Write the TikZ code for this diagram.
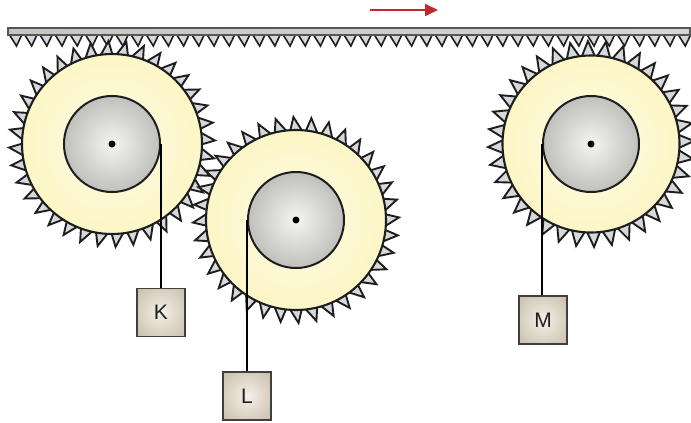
\documentclass[tikz,border=0pt]{standalone}
\usepackage{fontspec}
\setmainfont{Liberation Sans}
\usetikzlibrary{arrows.meta}
\definecolor{diskin}{HTML}{FFFDE4}
\definecolor{diskout}{HTML}{FAEEA8}
\definecolor{hubin}{HTML}{F4F4F3}
\definecolor{hubout}{HTML}{8C8B85}
\definecolor{boxin}{HTML}{F4F0E8}
\definecolor{boxout}{HTML}{B0A287}
\definecolor{toothfill}{HTML}{D6D9DC}
\definecolor{inkdark}{HTML}{1E1E1E}
\definecolor{rackfill}{HTML}{C6C6BF}
\definecolor{arrowred}{HTML}{C1272D}
\pgfdeclareradialshading{diskshade}{\pgfpoint{0bp}{0bp}}{color(0bp)=(diskin); color(50bp)=(diskout)}
\pgfdeclareradialshading{hubshade}{\pgfpoint{0bp}{0bp}}{color(0bp)=(hubin); color(50bp)=(hubout)}
\pgfdeclareradialshading{boxshade}{\pgfpoint{0bp}{0bp}}{color(0bp)=(boxin); color(55bp)=(boxout); color(75bp)=(boxout)}
\tikzset{
  tooth/.style={fill=toothfill, draw=inkdark, line width=1.9pt, line join=miter},
  racktooth/.style={fill=toothfill, draw=inkdark, line width=1.6pt, line join=miter},
  disk/.style={circle, draw=inkdark, line width=2.1pt, shading=diskshade, minimum size=180pt, inner sep=0pt},
  hub/.style={circle, draw=inkdark, line width=2pt, shading=hubshade, minimum size=96pt, inner sep=0pt},
  weight/.style={rectangle, draw=inkdark!85, line width=1.4pt, shading=boxshade, minimum size=48pt, inner sep=0pt, font=\fontsize{21}{21}\selectfont, text=inkdark},
  rackbar/.style={rectangle, draw=inkdark!75, line width=1.4pt, left color=rackfill, right color=rackfill!70!white, minimum width=682pt, minimum height=7pt, inner sep=0pt},
  rope/.style={draw=black, line width=1.3pt},
  push/.style={draw=arrowred, line width=1.8pt, -{Triangle[length=13pt,width=12pt]}},
}
\newcommand{\gearteeth}[4]{%
  \begin{scope}[shift={(#1)}]
  \foreach \i in {1,...,#2}{
    \pgfmathsetmacro{\ga}{#4+\i*360/#2}
    \pgfmathsetmacro{\gb}{\ga+0.86*360/#2}
    \pgfmathsetmacro{\gt}{\ga+#3*0.86*360/#2}
    \draw[tooth] (\ga:88) -- (\gt:103) -- (\gb:88) -- cycle;
  }
  \end{scope}}
\begin{document}
\begin{tikzpicture}[x=1pt,y=-1pt]
\useasboundingbox (0,0) rectangle (691,423);
% rack
\foreach \k in {0,...,44}{
  \pgfmathsetmacro{\rx}{9+15.2*\k}
  \draw[racktooth] (\rx,34) -- (\rx+7.5,46) -- (\rx+13.2,34) -- cycle;
}
\node[rackbar] (rack) at (349,31.5) {};
% arrow
\coordinate (aS) at (370,10);
\coordinate (aE) at (438,10);
\draw[push] (aS) -- (aE);
% gear centres
\coordinate (gK) at (112,144);
\coordinate (gL) at (296,220);
\coordinate (gM) at (591,144);
% gear K
\gearteeth{gK}{36}{0.7}{2}
\node[disk] (diskK) at (gK) {};
\node[hub] (hubK) at (gK) {};
\fill (gK) circle (3.5);
% gear L
\gearteeth{gL}{36}{0.3}{6}
\node[disk] (diskL) at (gL) {};
\node[hub] (hubL) at (gL) {};
\fill (gL) circle (3.5);
% gear M
\gearteeth{gM}{36}{0.5}{4}
\node[disk, minimum size=177pt] (diskM) at (gM) {};
\node[hub] (hubM) at (gM) {};
\fill (gM) circle (3.5);
% weights
\node[weight] (K) at (161,312.5) {K};
\node[weight] (L) at (247,396) {L};
\node[weight] (M) at (543,320) {M};
% ropes
\draw[rope] (hubK.east) -- (hubK.east |- K.north);
\draw[rope] (hubL.west) -- (hubL.west |- L.north);
\draw[rope] (hubM.west) -- (hubM.west |- M.north);
\end{tikzpicture}
\end{document}
